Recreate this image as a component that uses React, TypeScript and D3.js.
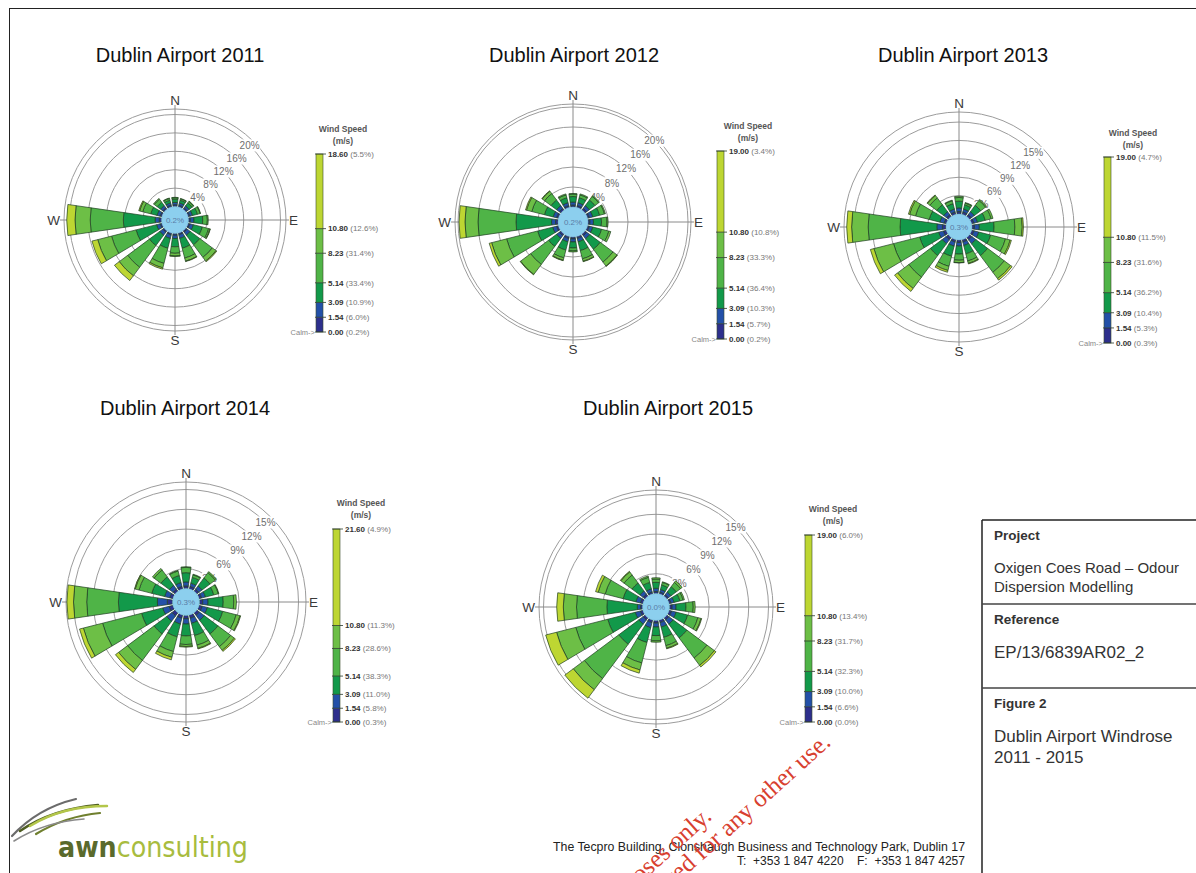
import React from 'react';
import * as d3 from 'd3';

// 風向（北から時計回り）
const DIRECTIONS = ['N', 'NNE', 'NE', 'ENE', 'E', 'ESE', 'SE', 'SSE', 'S', 'SSW', 'SW', 'WSW', 'W', 'WNW', 'NW', 'NNW'];

// 風速クラスの境界 (m/s)、最後の値は各年の最大値
const SPEED_BREAKS = [0, 1.54, 3.09, 5.14, 8.23, 10.8];

// 各方位の頻度(%)  列: 0.5-1.54, 1.54-3.09, 3.09-5.14, 5.14-8.23, 8.23-10.80, >=10.80
const FREQ_2011 = [
  [0.4, 0.5, 0.7, 0.3, 0.1, 0], [0.4, 0.5, 0.6, 0.3, 0.1, 0], [0.4, 0.5, 0.8, 0.4, 0.1, 0], [0.4, 0.6, 1.1, 0.6, 0.1, 0],
  [0.4, 0.8, 1.9, 1.0, 0.2, 0], [0.4, 0.8, 2.0, 1.4, 0.3, 0.1], [0.4, 0.8, 2.6, 3.4, 1.0, 0.2], [0.4, 0.8, 2.2, 2.2, 0.7, 0.1],
  [0.4, 0.7, 1.8, 1.4, 0.6, 0.1], [0.4, 0.8, 2.2, 3.4, 1.0, 0.3], [0.4, 0.8, 2.8, 5.9, 2.3, 1.3], [0.4, 0.8, 4.6, 5.5, 3.1, 1.3],
  [0.5, 0.9, 6.9, 7.2, 3.3, 1.8], [0.4, 0.7, 1.4, 1.8, 0.7, 0.2], [0.4, 0.6, 0.9, 0.8, 0.2, 0], [0.4, 0.5, 0.6, 0.4, 0.1, 0],
];
const FREQ_2012 = [
  [0.4, 0.6, 1.1, 0.5, 0.1, 0], [0.4, 0.6, 1.0, 0.6, 0.2, 0], [0.4, 0.7, 1.4, 0.9, 0.2, 0], [0.4, 0.7, 1.4, 1.0, 0.2, 0],
  [0.4, 0.7, 1.6, 1.1, 0.2, 0], [0.4, 0.7, 1.8, 1.5, 0.4, 0], [0.4, 0.8, 2.6, 3.2, 1.0, 0.1], [0.4, 0.7, 1.8, 1.7, 0.5, 0.1],
  [0.4, 0.6, 1.2, 0.6, 0.2, 0], [0.4, 0.7, 1.7, 1.6, 0.5, 0.1], [0.4, 0.7, 2.0, 4.5, 2.5, 0.1], [0.4, 0.8, 3.1, 6.4, 3.1, 0.5],
  [0.5, 0.8, 7.1, 7.6, 2.6, 1.2], [0.4, 0.7, 1.8, 2.6, 1.1, 0.2], [0.4, 0.7, 1.4, 1.6, 0.6, 0.1], [0.4, 0.6, 1.0, 0.6, 0.2, 0],
];
const FREQ_2013 = [
  [0.4, 0.6, 1.1, 0.6, 0.2, 0], [0.4, 0.5, 0.7, 0.3, 0.1, 0], [0.4, 0.6, 1.3, 1.0, 0.2, 0], [0.4, 0.6, 1.3, 1.0, 0.3, 0],
  [0.4, 0.8, 2.4, 3.4, 1.2, 0.2], [0.4, 0.8, 2.0, 2.5, 0.8, 0.2], [0.5, 0.8, 2.4, 3.4, 1.3, 0.3], [0.4, 0.6, 1.4, 1.2, 0.4, 0.1],
  [0.4, 0.6, 1.3, 1.0, 0.4, 0.05], [0.4, 0.7, 1.7, 1.7, 0.7, 0.3], [0.5, 0.8, 2.4, 4.4, 2.3, 0.6], [0.5, 0.8, 3.2, 4.4, 3.3, 0.6],
  [0.6, 0.9, 6.0, 5.2, 2.7, 0.8], [0.4, 0.7, 1.8, 2.3, 1.0, 0.2], [0.4, 0.6, 1.4, 1.4, 0.5, 0.1], [0.4, 0.5, 0.9, 0.5, 0.1, 0],
];
const FREQ_2014 = [
  [0.4, 0.6, 1.4, 0.8, 0.1, 0], [0.4, 0.5, 0.9, 0.4, 0.1, 0], [0.4, 0.6, 1.5, 1.0, 0.2, 0], [0.4, 0.6, 1.3, 0.7, 0.1, 0],
  [0.5, 0.8, 2.3, 1.6, 0.4, 0], [0.5, 0.8, 2.4, 2.1, 0.6, 0.1], [0.5, 0.9, 2.6, 2.4, 0.7, 0.2], [0.5, 0.8, 1.9, 1.5, 0.5, 0.1],
  [0.5, 0.8, 1.8, 1.3, 0.3, 0.1], [0.5, 0.9, 2.0, 2.3, 0.9, 0.4], [0.6, 1.0, 2.4, 5.0, 1.7, 0.6], [0.6, 1.0, 3.3, 6.1, 3.0, 0.6],
  [0.8, 1.5, 5.9, 4.8, 2.0, 1.0], [0.5, 0.8, 2.0, 2.0, 0.6, 0.1], [0.4, 0.7, 1.6, 1.3, 0.3, 0], [0.4, 0.6, 1.1, 0.7, 0.1, 0],
];
const FREQ_2015 = [
  [0.3, 0.5, 0.9, 0.5, 0.2, 0], [0.3, 0.4, 0.7, 0.4, 0.1, 0], [0.3, 0.5, 1.0, 0.8, 0.3, 0], [0.3, 0.5, 0.9, 0.5, 0.2, 0],
  [0.4, 0.6, 1.5, 1.1, 0.3, 0], [0.4, 0.7, 1.8, 1.6, 0.5, 0.1], [0.4, 0.8, 2.6, 3.8, 1.4, 0.3], [0.4, 0.7, 1.6, 1.3, 0.4, 0.1],
  [0.4, 0.6, 1.3, 0.8, 0.2, 0], [0.4, 0.8, 2.3, 3.2, 1.1, 0.5], [0.4, 0.8, 3.8, 6.5, 2.1, 1.6], [0.4, 0.8, 4.3, 5.0, 3.0, 1.7],
  [0.3, 0.5, 4.6, 4.6, 2.0, 1.0], [0.4, 0.7, 2.0, 2.8, 1.1, 0.4], [0.4, 0.6, 1.5, 1.5, 0.6, 0.1], [0.3, 0.5, 1.0, 0.8, 0.2, 0],
];

const CALM_PCT = [0.2, 0.2, 0.3, 0.3, 0.0];
const MAX_SPEED = [18.6, 19.0, 19.0, 21.6, 19.0];

// 凡例の割合（下から: 0.00, 1.54, 3.09, 5.14, 8.23, 10.80, 最大）
const LEGEND_PCT_2011 = [0.2, 6.0, 10.9, 33.4, 31.4, 12.6, 5.5];
const LEGEND_PCT_2012 = [0.2, 5.7, 10.3, 36.4, 33.3, 10.8, 3.4];
const LEGEND_PCT_2013 = [0.3, 5.3, 10.4, 36.2, 31.6, 11.5, 4.7];
const LEGEND_PCT_2014 = [0.3, 5.8, 11.0, 38.3, 28.6, 11.3, 4.9];
const LEGEND_PCT_2015 = [0.0, 6.6, 10.0, 32.3, 31.7, 13.4, 6.0];

const RING_TICKS_4 = [4, 8, 12, 16, 20];
const RING_TICKS_3 = [3, 6, 9, 12, 15];

const CLASS_COLORS = ['#2d2f8c', '#2350a8', '#12994a', '#4fb447', '#6dbf46', '#bdd632'];
const FONT = 'Liberation Sans, Arial, Helvetica, sans-serif';
const PETAL_WIDTH_DEG = 16.5;

// レイアウト（位置とサイズ）
const ROSES = [
  { title: 'Dublin Airport 2011', titleX: 180, titleY: 62, cx: 175, cy: 220, r0: 13.5, ppp: 4.6, outerR: 111, legX: 316, legTop: 154, legBottom: 332, legTitleX: 343, legTitleY: 129 },
  { title: 'Dublin Airport 2012', titleX: 574, titleY: 62, cx: 573, cy: 222, r0: 15, ppp: 5.0, outerR: 118, legX: 717, legTop: 151, legBottom: 339, legTitleX: 748, legTitleY: 126 },
  { title: 'Dublin Airport 2013', titleX: 963, titleY: 62, cx: 959, cy: 227, r0: 13, ppp: 6.13, outerR: 115, legX: 1104, legTop: 157, legBottom: 343, legTitleX: 1133, legTitleY: 133 },
  { title: 'Dublin Airport 2014', titleX: 185, titleY: 415, cx: 186, cy: 602, r0: 13.5, ppp: 6.6, outerR: 120, legX: 333, legTop: 529, legBottom: 722, legTitleX: 361, legTitleY: 503 },
  { title: 'Dublin Airport 2015', titleX: 668, titleY: 415, cx: 656, cy: 607, r0: 13.5, ppp: 6.6, outerR: 117, legX: 805, legTop: 535, legBottom: 722, legTitleX: 833, legTitleY: 509 },
];
const FREQS = [FREQ_2011, FREQ_2012, FREQ_2013, FREQ_2014, FREQ_2015];
const LEGEND_PCTS = [LEGEND_PCT_2011, LEGEND_PCT_2012, LEGEND_PCT_2013, LEGEND_PCT_2014, LEGEND_PCT_2015];
const TICKS = [RING_TICKS_4, RING_TICKS_4, RING_TICKS_3, RING_TICKS_3, RING_TICKS_3];

const WindRose = ({ cfg, freq, calm, ticks, maxSpeed, legendPct }: any) => {
  const { cx, cy, r0, ppp, outerR } = cfg;
  const maxPct = (outerR - r0) / ppp;
  const radius = d3.scaleLinear().domain([0, maxPct]).range([r0, outerR]);
  const step = (2 * Math.PI) / DIRECTIONS.length;
  const half = ((PETAL_WIDTH_DEG / 2) * Math.PI) / 180;
  const arc: any = d3.arc();
  const legendY = d3.scaleLinear().domain([0, maxSpeed]).range([cfg.legBottom, cfg.legTop]);
  const breaks = [...SPEED_BREAKS, maxSpeed];
  const diag = Math.PI / 4;

  return (
    <g fontFamily={FONT}>
      <text x={cfg.titleX} y={cfg.titleY} textAnchor="middle" fontSize={20} fill="#111">{cfg.title}</text>

      {/* 同心円 */}
      {ticks.map((t: number) => (
        <circle key={t} cx={cx} cy={cy} r={radius(t)} fill="none" stroke="#9c9c9c" strokeWidth={1} />
      ))}
      <circle cx={cx} cy={cy} r={outerR} fill="none" stroke="#9c9c9c" strokeWidth={1} />

      {/* 軸 */}
      <line x1={cx} y1={cy - outerR - 4} x2={cx} y2={cy + outerR + 4} stroke="#8a8a8a" strokeWidth={1} />
      <line x1={cx - outerR - 4} y1={cy} x2={cx + outerR + 3} y2={cy} stroke="#8a8a8a" strokeWidth={1} />

      {/* 目盛りラベル */}
      {ticks.map((t: number) => {
        const rr = radius(t);
        const lx = cx + rr * Math.sin(diag);
        const ly = cy - rr * Math.cos(diag);
        const label = `${t}%`;
        const w = label.length * 5.6 + 4;
        return (
          <g key={`l${t}`}>
            <rect x={lx - w / 2} y={ly - 6} width={w} height={12} fill="#fff" />
            <text x={lx} y={ly} dy="0.35em" textAnchor="middle" fontSize={10} fill="#6e6e6e">{label}</text>
          </g>
        );
      })}

      {/* 花びら */}
      {freq.map((row: number[], i: number) => {
        let acc = 0;
        return row.map((v, k) => {
          const a0 = acc;
          acc += v;
          if (v <= 0) return null;
          return (
            <path
              key={`${i}-${k}`}
              transform={`translate(${cx},${cy})`}
              d={arc({ innerRadius: radius(a0), outerRadius: radius(acc), startAngle: i * step - half, endAngle: i * step + half })}
              fill={CLASS_COLORS[k]}
              stroke="#1f3f22"
              strokeWidth={0.7}
            />
          );
        });
      })}

      {/* 静穏 */}
      <circle cx={cx} cy={cy} r={r0} fill="#8ccfee" stroke="#6fb2d6" strokeWidth={0.5} />
      <text x={cx} y={cy} dy="0.35em" textAnchor="middle" fontSize={8} fill="#5a7ca6">{`${calm.toFixed(1)}%`}</text>

      {/* 方位 */}
      <text x={cx} y={cy - outerR - 9} dy="0.35em" textAnchor="middle" fontSize={13.5} fill="#3a3a3a">N</text>
      <text x={cx} y={cy + outerR + 9} dy="0.35em" textAnchor="middle" fontSize={13.5} fill="#3a3a3a">S</text>
      <text x={cx + outerR + 3} y={cy} dy="0.35em" textAnchor="start" fontSize={13.5} fill="#3a3a3a">E</text>
      <text x={cx - outerR - 4} y={cy} dy="0.35em" textAnchor="end" fontSize={13.5} fill="#3a3a3a">W</text>

      {/* 凡例 */}
      <text x={cfg.legTitleX} y={cfg.legTitleY} dy="0.35em" textAnchor="middle" fontSize={8.5} fontWeight="bold" fill="#555">Wind Speed</text>
      <text x={cfg.legTitleX} y={cfg.legTitleY + 12} dy="0.35em" textAnchor="middle" fontSize={8.5} fontWeight="bold" fill="#555">(m/s)</text>
      {CLASS_COLORS.map((c, k) => (
        <rect key={`s${k}`} x={cfg.legX} y={legendY(breaks[k + 1])} width={7} height={legendY(breaks[k]) - legendY(breaks[k + 1])} fill={c} />
      ))}
      <rect x={cfg.legX} y={legendY(maxSpeed)} width={7} height={legendY(0) - legendY(maxSpeed)} fill="none" stroke="#3a4a2a" strokeWidth={0.6} />
      {breaks.map((b, j) => (
        <g key={`b${j}`}>
          <line x1={cfg.legX - 1} x2={cfg.legX + 10} y1={legendY(b)} y2={legendY(b)} stroke="#2a3a2a" strokeWidth={0.8} />
          <text x={cfg.legX + 12} y={legendY(b)} dy="0.35em" fontSize={8} fill="#333">
            <tspan fontWeight="bold">{b.toFixed(2)}</tspan>
            <tspan fill="#777">{` (${legendPct[j].toFixed(1)}%)`}</tspan>
          </text>
        </g>
      ))}
      <text x={cfg.legX - 1} y={legendY(0)} dy="0.35em" textAnchor="end" fontSize={7.5} fill="#888">Calm-&gt;</text>
    </g>
  );
};

const Logo = () => (
  <g>
    <path d="M 12 836 Q 38 808 76 799" fill="none" stroke="#6b6b6b" strokeWidth={2.2} strokeLinecap="round" />
    <path d="M 20 831 Q 52 809 98 805" fill="none" stroke="#4f5d22" strokeWidth={2.6} strokeLinecap="round" />
    <path d="M 30 826 Q 62 806 107 806" fill="none" stroke="#b3c64a" strokeWidth={2.4} strokeLinecap="round" />
    <path d="M 36 834 Q 66 816 100 813" fill="none" stroke="#6f7f2e" strokeWidth={2.2} strokeLinecap="round" />
    <path d="M 14 841 Q 44 822 84 819" fill="none" stroke="#8a8a8a" strokeWidth={1.6} strokeLinecap="round" />
    <text x={58} y={857} fontSize={28} fontFamily="Liberation Sans Narrow, DejaVu Sans Condensed, Arial, sans-serif" textLength={190} lengthAdjust="spacingAndGlyphs">
      <tspan fontWeight="bold" fill="#5a6a2c">awn</tspan>
      <tspan fill="#a8bc3e">consulting</tspan>
    </text>
  </g>
);

const InfoPanel = () => (
  <g fontFamily={FONT} fill="#333">
    <line x1={982} y1={520} x2={982} y2={873} stroke="#222" strokeWidth={1.5} />
    <line x1={982} y1={520} x2={1196} y2={520} stroke="#222" strokeWidth={1.5} />
    <line x1={982} y1={604} x2={1196} y2={604} stroke="#444" strokeWidth={1.5} />
    <line x1={982} y1={688} x2={1196} y2={688} stroke="#444" strokeWidth={1.5} />
    <text x={994} y={540} fontSize={13.5} fontWeight="bold">Project</text>
    <text x={994} y={573} fontSize={15}>Oxigen Coes Road – Odour</text>
    <text x={994} y={592} fontSize={15}>Dispersion Modelling</text>
    <text x={994} y={624} fontSize={13.5} fontWeight="bold">Reference</text>
    <text x={994} y={658} fontSize={17}>EP/13/6839AR02_2</text>
    <text x={994} y={708} fontSize={13.5} fontWeight="bold">Figure 2</text>
    <text x={994} y={742} fontSize={17}>Dublin Airport Windrose</text>
    <text x={994} y={763} fontSize={17}>2011 - 2015</text>
  </g>
);

export default function App() {
  return (
    <svg width={1196} height={873} style={{ position: 'fixed', left: 0, top: 0, background: '#fff' }}>
      <rect x={0} y={0} width={1196} height={873} fill="#fff" />
      <line x1={9} y1={8.5} x2={1196} y2={8.5} stroke="#222" strokeWidth={1} />
      <line x1={9.5} y1={8} x2={9.5} y2={873} stroke="#222" strokeWidth={1} />

      {ROSES.map((cfg, i) => (
        <WindRose key={cfg.title} cfg={cfg} freq={FREQS[i]} calm={CALM_PCT[i]} ticks={TICKS[i]} maxSpeed={MAX_SPEED[i]} legendPct={LEGEND_PCTS[i]} />
      ))}

      <InfoPanel />
      <Logo />

      <g fontFamily={FONT} fill="#222">
        <text x={965} y={851} textAnchor="end" fontSize={12.5} textLength={412} lengthAdjust="spacingAndGlyphs">The Tecpro Building, Clonshaugh Business and Technology Park, Dublin 17</text>
        <text x={965} y={865} textAnchor="end" fontSize={12.5} xmlSpace="preserve" textLength={228} lengthAdjust="spacingAndGlyphs">T:  +353 1 847 4220    F:  +353 1 847 4257</text>
      </g>

      <g fontFamily="Liberation Serif, Times New Roman, serif" fontSize={25} fill="#d8402f">
        <text x={713} y={818} textAnchor="end" transform="rotate(-42 713 818)">For inspection purposes only.</text>
        <text x={832} y={744} textAnchor="end" transform="rotate(-42 832 744)">Consent of copyright owner required for any other use.</text>
      </g>
    </svg>
  );
}
